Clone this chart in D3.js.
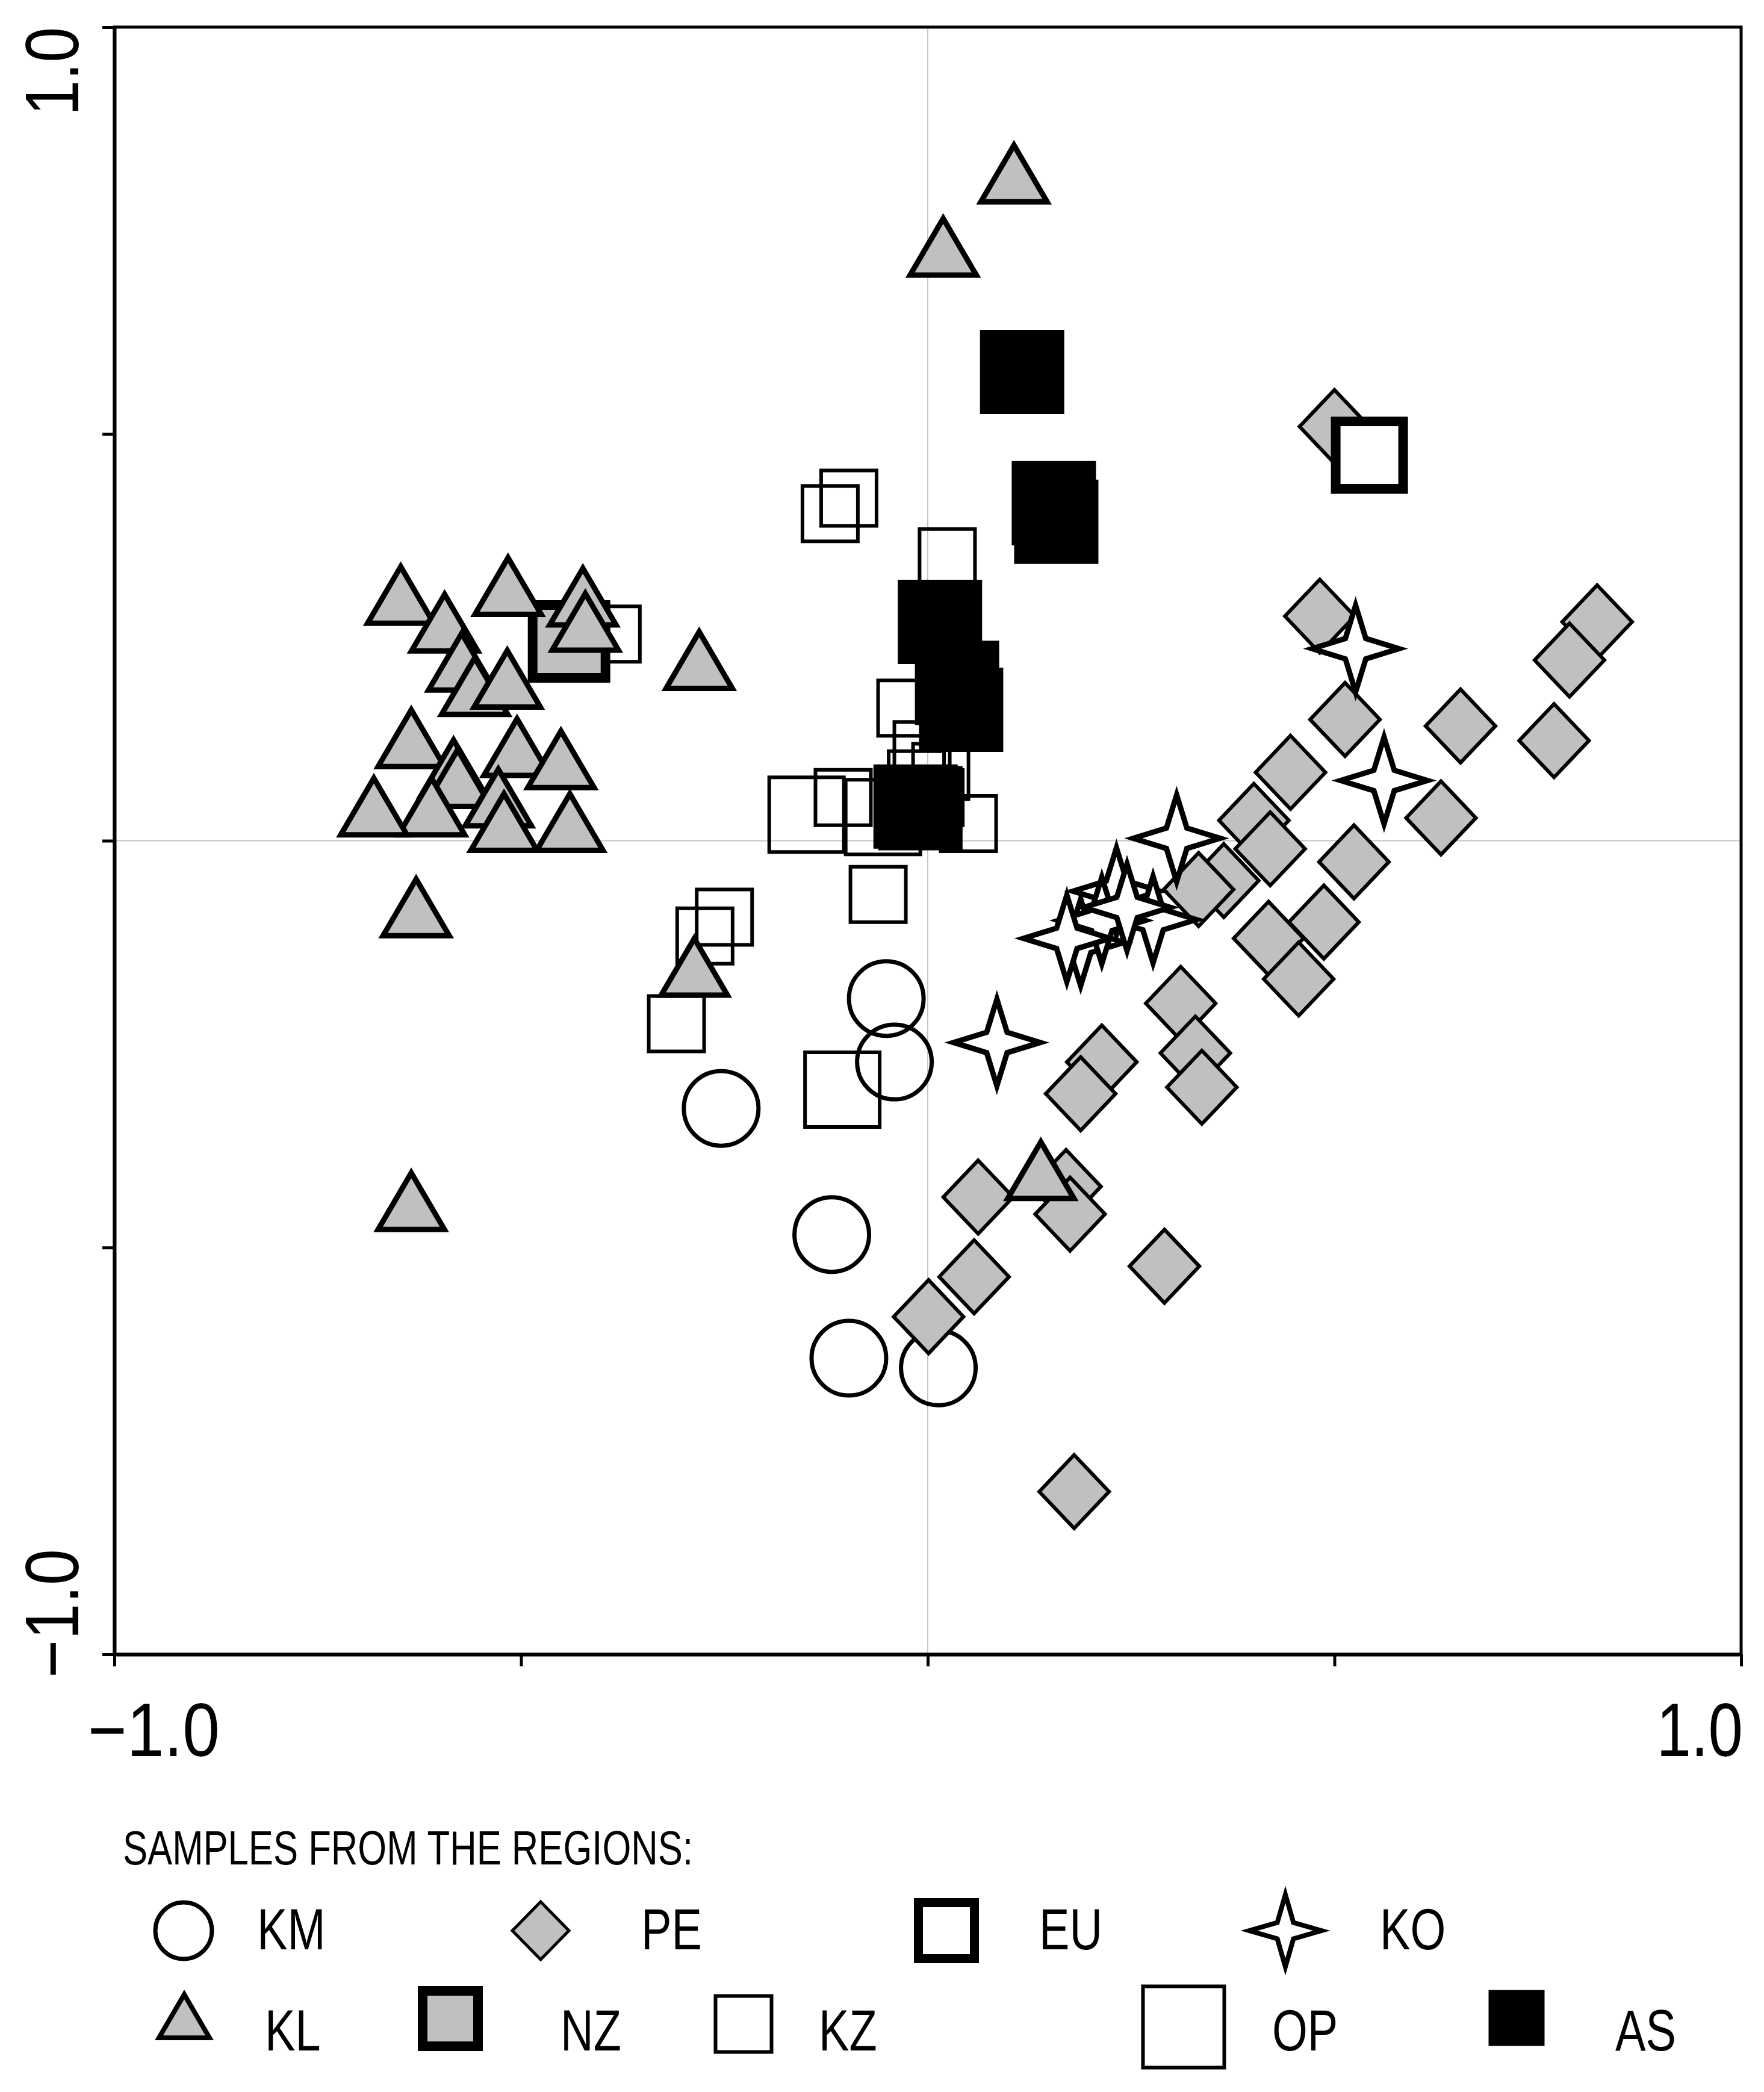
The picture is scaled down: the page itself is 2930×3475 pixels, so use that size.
<!DOCTYPE html>
<html>
<head>
<meta charset="utf-8">
<script src="https://d3js.org/d3.v7.min.js"></script>
<style>
body { margin: 0; background: #fff; }
text { font-family: "Liberation Sans", Arial, sans-serif; fill: #000; }
</style>
</head>
<body>
<div id="chart"></div>
<script>
// Ordination plot of samples - axis 1 vs axis 2

// Sample scores [axis1, axis2] per region
var KM = [[-0.051,-0.194],[-0.041,-0.272],[-0.254,-0.329],[-0.118,-0.484],[-0.097,-0.636],[0.013,-0.648]];
var KZ = [[-0.097,0.421],[-0.120,0.402],[0.024,0.349],[-0.027,0.163],[-0.007,0.112],[-0.014,0.076],
          [0.009,0.053],[0.016,0.085],[-0.104,0.053],[0.050,0.021],[-0.061,-0.066],[-0.250,-0.094],
          [-0.274,-0.117],[-0.309,-0.225],[-0.388,0.254]];
var OP = [[-0.149,0.032],[-0.055,0.029],[-0.105,-0.306]];
var PE = [[0.500,0.509],[0.482,0.276],[0.823,0.269],[0.789,0.222],[0.513,0.149],[0.655,0.141],
          [0.770,0.123],[0.446,0.084],[0.401,0.025],[0.421,-0.010],[0.631,0.028],[0.524,-0.026],
          [0.364,-0.049],[0.333,-0.060],[0.487,-0.100],[0.419,-0.120],[0.456,-0.170],[0.311,-0.200],
          [0.329,-0.261],[0.337,-0.303],[0.214,-0.272],[0.188,-0.311],[0.062,-0.438],[0.170,-0.425],
          [0.175,-0.459],[0.057,-0.536],[0.291,-0.523],[0.001,-0.585],[0.180,-0.800]];
var EU = [[0.543,0.474]];
var NZ = [[-0.441,0.245]];
var AS = [[0.116,0.576],[0.155,0.415],[0.158,0.392],[0.015,0.269],[0.036,0.194],[0.041,0.161],
          [-0.015,0.042],[-0.009,0.040]];
var KO = [[0.526,0.236],[0.561,0.074],[0.306,0.003],[0.232,-0.062],[0.277,-0.097],[0.188,-0.125],
          [0.214,-0.098],[0.245,-0.082],[0.171,-0.120],[0.085,-0.248]];
var KL = [[0.106,0.820],[0.019,0.730],[-0.648,0.302],[-0.516,0.313],[-0.424,0.300],[-0.594,0.268],
          [-0.421,0.269],[-0.281,0.222],[-0.573,0.220],[-0.557,0.190],[-0.517,0.199],[-0.635,0.126],
          [-0.583,0.089],[-0.578,0.077],[-0.610,0.042],[-0.505,0.115],[-0.451,0.100],[-0.681,0.042],
          [-0.528,0.053],[-0.521,0.023],[-0.440,0.023],[-0.629,-0.082],[-0.287,-0.155],[-0.635,-0.443],
          [0.139,-0.405]];

var tickValues = [-1, -0.5, 0, 0.5, 1];
var endLabels = ["\u22121.0", "1.0"];

var legendRow1 = ["KM", "PE", "EU", "KO"];
var legendRow2 = ["KL", "NZ", "KZ", "OP", "AS"];

var svgWidth = 2930;
var svgHeight = 3475;

var svg = d3.select("#chart")
    .append("svg")
    .attr("width", svgWidth)
    .attr("height", svgHeight);

// plot frame in page pixels
var x = d3.scaleLinear().domain([-1, 1]).range([190, 2892]);
var y = d3.scaleLinear().domain([-1, 1]).range([2748, 45]);

// the original uses a narrow sans, so squeeze regular text horizontally
function addText(g, tx, ty, size, anchor, str, rot, sx) {
    var tr = `translate(${tx},${ty})` + (rot ? ` rotate(${rot})` : "") + ` scale(${sx || 0.78},1)`;
    return g.append("text")
        .attr("transform", tr)
        .attr("font-size", size)
        .attr("text-anchor", anchor)
        .text(str);
}

// shape helpers, all centred on 0,0
function circlePath(r) {
    return `M${r},0A${r},${r} 0 1 1 ${-r},0A${r},${r} 0 1 1 ${r},0Z`;
}
function squarePath(s) {
    var h = s / 2;
    return `M${-h},${-h}H${h}V${h}H${-h}Z`;
}
function diamondPath(w, h) {
    return `M0,${-h/2}L${w/2},0L0,${h/2}L${-w/2},0Z`;
}
function trianglePath(w, h) {
    return `M0,${-h/2}L${w/2},${h/2}L${-w/2},${h/2}Z`;
}
function starPath(ro, ri) {
    var p = d3.path();
    for (var i = 0; i < 8; i++) {
        var a = i * Math.PI / 4 - Math.PI / 2;
        var r = (i % 2 === 0) ? ro : ri;
        if (i === 0) p.moveTo(r * Math.cos(a), r * Math.sin(a));
        else p.lineTo(r * Math.cos(a), r * Math.sin(a));
    }
    p.closePath();
    return p.toString();
}

var grey = "#c0c0c0";

// marker styles in the plot
var plotStyle = {
    KM: {d: circlePath(62), fill: "none", sw: 7},
    KZ: {d: squarePath(92), fill: "none", sw: 6},
    OP: {d: squarePath(124), fill: "none", sw: 6},
    PE: {d: diamondPath(116, 122), fill: grey, sw: 6},
    EU: {d: squarePath(112), fill: "#fff", sw: 16},
    NZ: {d: squarePath(121), fill: grey, sw: 16},
    AS: {d: squarePath(140), fill: "#000", sw: 0},
    KO: {d: starPath(72, 24), fill: "#fff", sw: 9},
    KL: {d: trianglePath(110, 94), fill: grey, sw: 9}
};

// marker styles in the legend (a bit smaller)
var legendStyle = {
    KM: {d: circlePath(47), fill: "none", sw: 7},
    PE: {d: diamondPath(94, 96), fill: grey, sw: 5},
    EU: {d: squarePath(93), fill: "#fff", sw: 15},
    KO: {d: starPath(60, 19), fill: "#fff", sw: 8},
    KL: {d: trianglePath(84, 72), fill: grey, sw: 8},
    NZ: {d: squarePath(92), fill: grey, sw: 16},
    KZ: {d: squarePath(93), fill: "none", sw: 6},
    OP: {d: squarePath(135), fill: "none", sw: 6},
    AS: {d: squarePath(93), fill: "#000", sw: 0}
};

// zero grid lines
svg.append("line")
    .attr("x1", x(0)).attr("x2", x(0))
    .attr("y1", y(1)).attr("y2", y(-1))
    .attr("stroke", "#c4c4c4").attr("stroke-width", 2);
svg.append("line")
    .attr("x1", x(-1)).attr("x2", x(1))
    .attr("y1", y(0)).attr("y2", y(0))
    .attr("stroke", "#c4c4c4").attr("stroke-width", 2);

// data points, drawn in the same order as the original
var seriesOrder = [["KM", KM], ["KZ", KZ], ["OP", OP], ["PE", PE], ["EU", EU],
                   ["NZ", NZ], ["AS", AS], ["KO", KO], ["KL", KL]];

seriesOrder.forEach(function(s) {
    var st = plotStyle[s[0]];
    svg.append("g")
        .attr("class", "series-" + s[0])
        .selectAll("path")
        .data(s[1])
        .enter()
        .append("path")
        .attr("transform", d => `translate(${x(d[0])},${y(d[1])})`)
        .attr("d", st.d)
        .attr("fill", st.fill)
        .attr("stroke", st.sw ? "#000" : "none")
        .attr("stroke-width", st.sw)
        .attr("stroke-linejoin", "miter");
});

// frame and axes
svg.append("rect")
    .attr("x", x(-1)).attr("y", y(1))
    .attr("width", x(1) - x(-1)).attr("height", y(-1) - y(1))
    .attr("fill", "none").attr("stroke", "#000").attr("stroke-width", 5);

var bottomAxis = d3.axisBottom(x).tickValues(tickValues).tickSize(20).tickSizeOuter(0).tickFormat("");
var leftAxis = d3.axisLeft(y).tickValues(tickValues).tickSize(20).tickSizeOuter(0).tickFormat("");

var xAxis = svg.append("g")
    .attr("transform", `translate(0, ${y(-1)})`)
    .call(bottomAxis);
var yAxis = svg.append("g")
    .attr("transform", `translate(${x(-1)}, 0)`)
    .call(leftAxis);

[xAxis, yAxis].forEach(function(a) {
    a.select(".domain").attr("stroke-width", 6);
    a.selectAll(".tick line").attr("stroke-width", 5);
});

// end labels on x axis
addText(svg, 146, 2917, 126, "start", endLabels[0], 0, 0.88);
addText(svg, 2895, 2917, 126, "end", endLabels[1], 0, 0.82);

// end labels on y axis (rotated)
addText(svg, 130, 45, 126, "end", endLabels[1], -90, 0.84);
addText(svg, 130, 2787, 126, "start", endLabels[0], -90, 0.86);

// legend
var legend = svg.append("g").attr("class", "legend");

addText(legend, 204, 3097, 79, "start", "SAMPLES FROM THE REGIONS:");

var legendPos = {
    KM: {mx: 305, my: 3207, tx: 427, ty: 3238},
    PE: {mx: 898, my: 3207, tx: 1065, ty: 3238},
    EU: {mx: 1572, my: 3207, tx: 1726, ty: 3238},
    KO: {mx: 2135, my: 3207, tx: 2292, ty: 3238},
    KL: {mx: 306, my: 3349, tx: 440, ty: 3406},
    NZ: {mx: 748, my: 3353, tx: 931, ty: 3406},
    KZ: {mx: 1235, my: 3362, tx: 1360, ty: 3406},
    OP: {mx: 1966, my: 3367, tx: 2113, ty: 3406},
    AS: {mx: 2519, my: 3352, tx: 2683, ty: 3406}
};

legendRow1.concat(legendRow2).forEach(function(key) {
    var st = legendStyle[key];
    var p = legendPos[key];
    legend.append("path")
        .attr("transform", `translate(${p.mx},${p.my})`)
        .attr("d", st.d)
        .attr("fill", st.fill)
        .attr("stroke", st.sw ? "#000" : "none")
        .attr("stroke-width", st.sw);
    addText(legend, p.tx, p.ty, 97, "start", key);
});
</script>
</body>
</html>
